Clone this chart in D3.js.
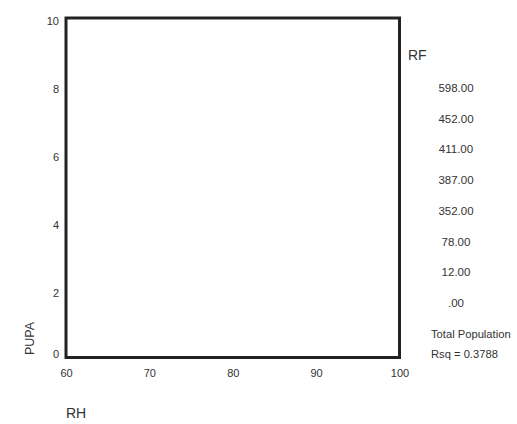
<!DOCTYPE html>
<html><head><meta charset="utf-8">
<script src="https://cdn.jsdelivr.net/npm/d3@7"></script>
<style>body{margin:0;background:#fff}svg{display:block;font-family:"Liberation Sans",Arial,sans-serif}</style>
</head><body>
<script>
const xTicks = [60, 70, 80, 90, 100];
const yTicks = [0, 2, 4, 6, 8, 10];
const rfLevels = ["598.00", "452.00", "411.00", "387.00", "352.00", "78.00", "12.00", ".00"];
const points = []; // no visible points in the reference
const rsq = 0.3788;

const W = 517, H = 424;
const svg = d3.select("body").append("svg").attr("width", W).attr("height", H);
const x = d3.scaleLinear().domain([60, 100]).range([66, 399.5]);
const y = d3.scaleLinear().domain([0, 10]).range([357.5, 18]);

svg.selectAll("circle.pt").data(points).join("circle").attr("class","pt")
  .attr("cx", d => x(d.x)).attr("cy", d => y(d.y)).attr("r", 2);

svg.append("rect").attr("x", x(60)).attr("y", y(10))
  .attr("width", x(100) - x(60)).attr("height", y(0) - y(10))
  .attr("fill", "none").attr("stroke", "#222").attr("stroke-width", 3);

const ax = d3.axisBottom(x).tickValues(xTicks).tickSize(0).tickPadding(0).tickFormat(d3.format("d"));
const gx = svg.append("g").attr("transform", `translate(0,${y(0)})`).call(ax);
gx.select(".domain").remove();
gx.selectAll("text").attr("dy", null).attr("y", 19.5).attr("fill", "#333").attr("font-size", 11);

const ay = d3.axisLeft(y).tickValues(yTicks).tickSize(0).tickPadding(0).tickFormat(d3.format("d"));
const gy = svg.append("g").attr("transform", `translate(${x(60) - 7},0)`).call(ay);
gy.select(".domain").remove();
gy.selectAll("text").attr("fill", "#333").attr("font-size", 11)
  .attr("dy", d => d === 0 ? "0em" : "0.6em");

svg.append("text").attr("x", x(60)).attr("y", 418).attr("font-size", 14).attr("fill", "#333").text("RH");
svg.append("text").attr("transform", `translate(34,338.5) rotate(-90)`).attr("text-anchor", "middle")
  .attr("font-size", 12.5).attr("fill", "#333").text("PUPA");

svg.append("text").attr("x", 408).attr("y", 60).attr("font-size", 14).attr("fill", "#333").text("RF");
const leg = d3.scalePoint().domain(rfLevels).range([88, 303]);
svg.selectAll("text.lg").data(rfLevels).join("text").attr("class", "lg")
  .attr("x", 456).attr("y", d => leg(d) + 4).attr("text-anchor", "middle")
  .attr("font-size", 11.5).attr("fill", "#333").text(d => d);
svg.append("text").attr("x", 431).attr("y", 338).attr("font-size", 11.2).attr("fill", "#333").text("Total Population");
svg.append("text").attr("x", 431).attr("y", 358).attr("font-size", 11.2).attr("fill", "#333").text("Rsq = " + rsq.toFixed(4));
</script>
</body></html>
